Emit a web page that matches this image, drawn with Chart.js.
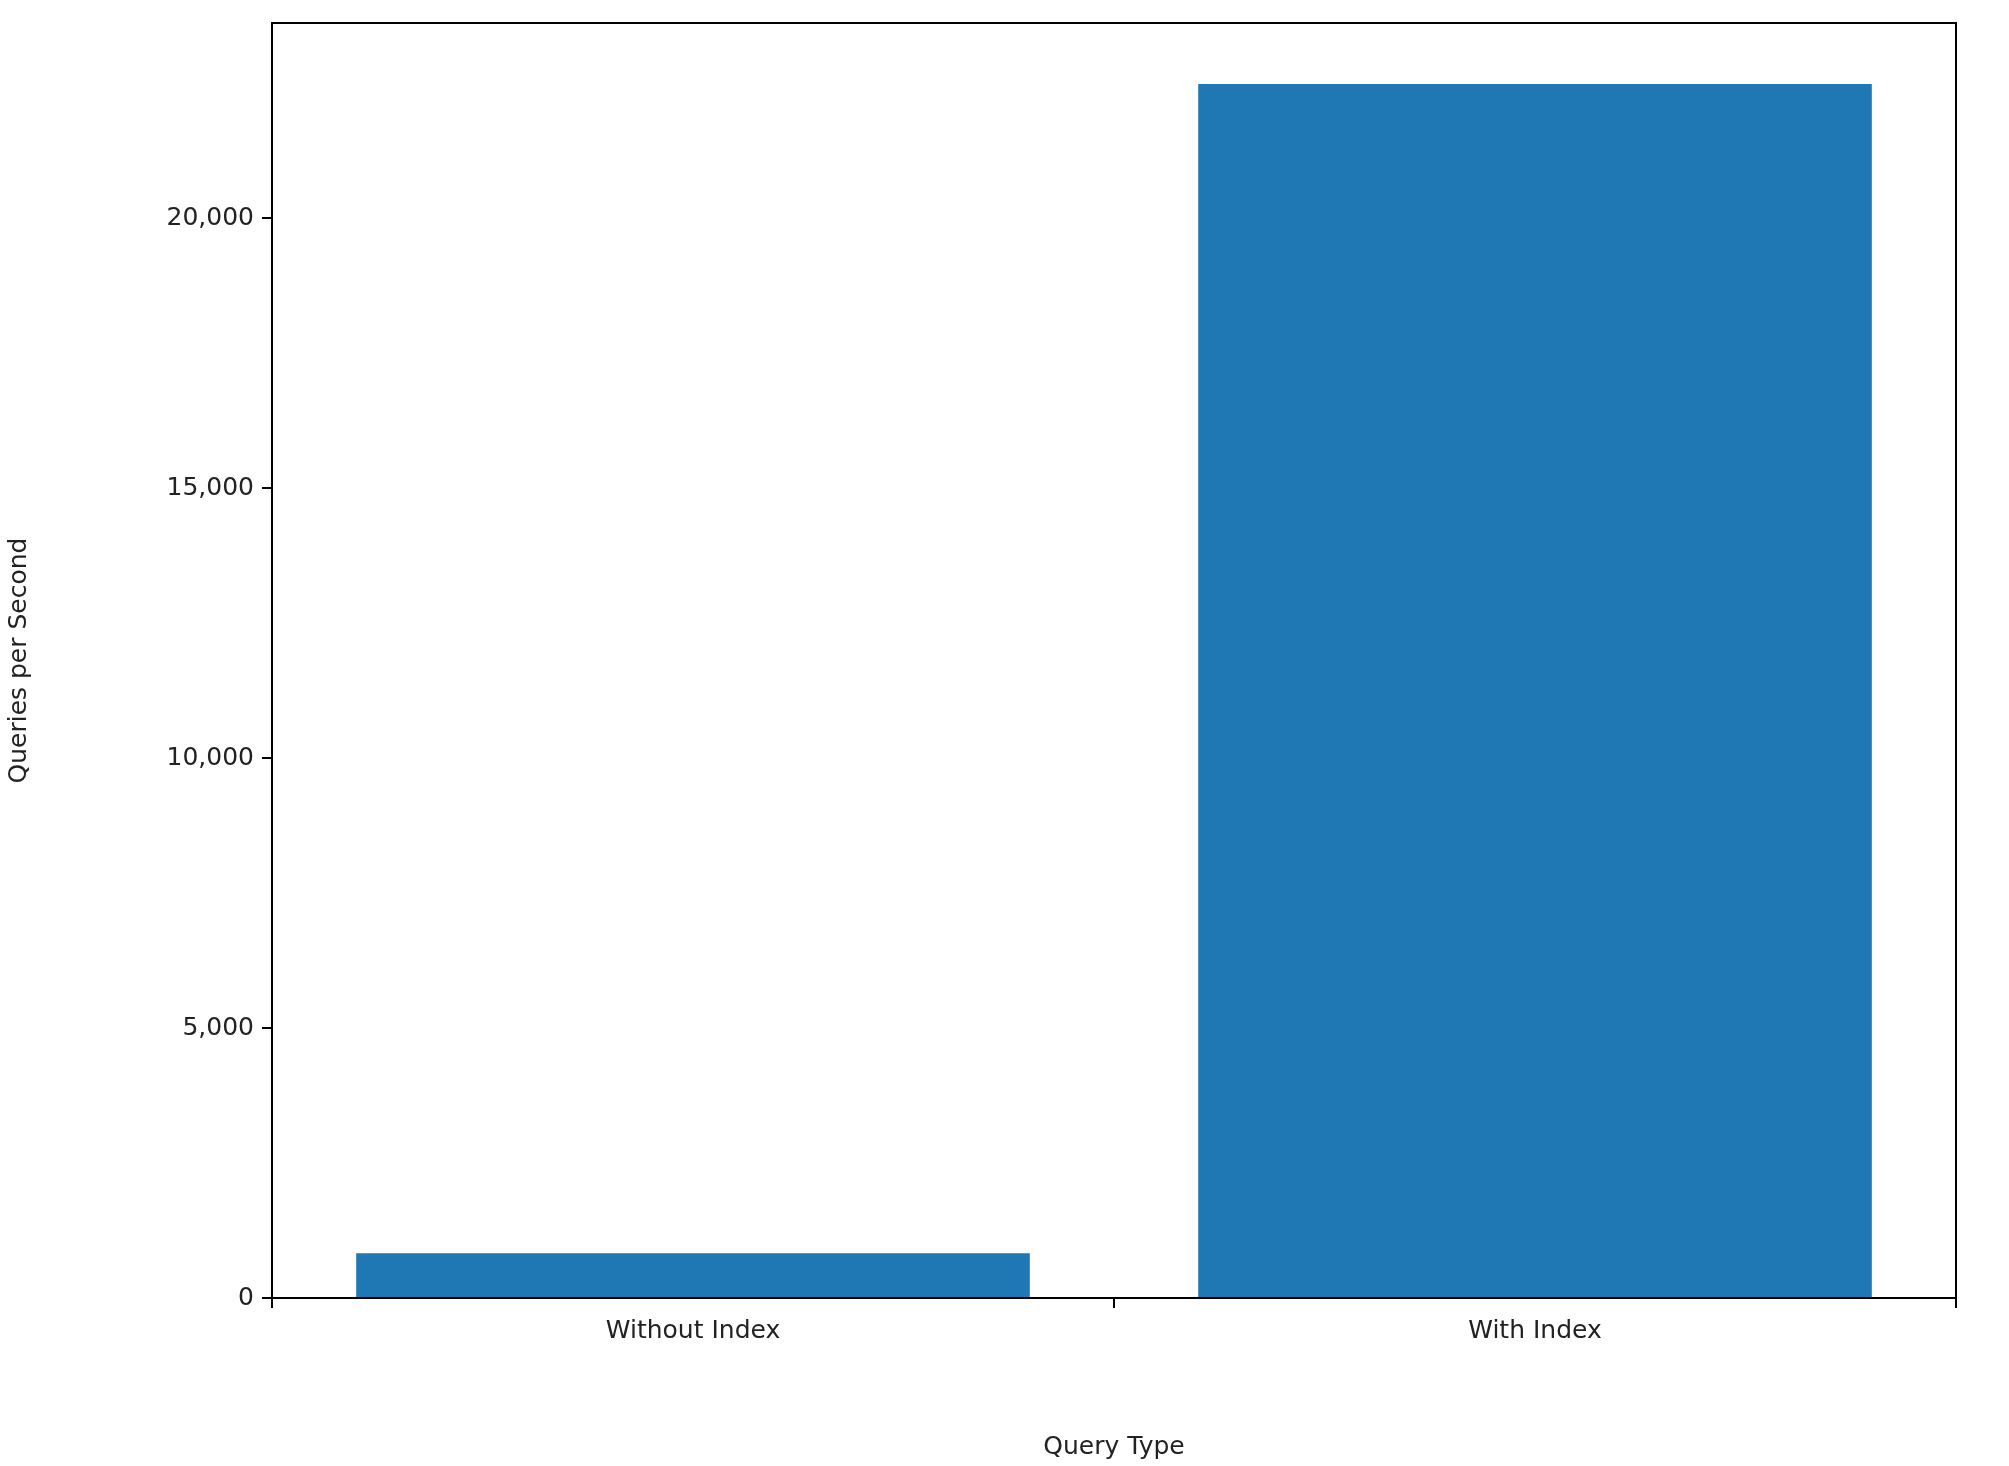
<!DOCTYPE html>
<html>
<head>
<meta charset="utf-8">
<script src="https://cdn.jsdelivr.net/npm/chart.js@4/dist/chart.umd.min.js"></script>
<style>
  html, body { margin: 0; padding: 0; background: #fff; }
  #wrap { width: 2009px; height: 1466px; }
</style>
</head>
<body>
<div id="wrap"><canvas id="c" width="2009" height="1466"></canvas></div>
<script>
// data
var categories = ['Without Index', 'With Index'];
var qps = [830, 22490];
var yTicks = [0, 5000, 10000, 15000, 20000];

var FONT = "'DejaVu Sans', sans-serif";

// matplotlib-style full frame around the plot area
var frame = {
  id: 'frame',
  afterDraw: function(chart) {
    var a = chart.chartArea, ctx = chart.ctx;
    ctx.save();
    ctx.strokeStyle = '#000';
    ctx.lineWidth = 2;
    ctx.strokeRect(a.left, a.top, a.right - a.left, a.bottom - a.top);
    ctx.restore();
  }
};

new Chart(document.getElementById('c'), {
  type: 'bar',
  data: {
    labels: categories,
    datasets: [{
      data: qps,
      backgroundColor: '#1f77b4',
      barPercentage: 0.8,
      categoryPercentage: 1.0
    }]
  },
  plugins: [frame],
  options: {
    responsive: false,
    animation: false,
    devicePixelRatio: 1,
    layout: { padding: { top: 15, right: 53, left: 0, bottom: 0 } },
    plugins: { legend: { display: false }, tooltip: { enabled: false } },
    scales: {
      x: {
        grid: { display: true, drawOnChartArea: false, color: '#000', tickLength: 10, lineWidth: 2 },
        border: { display: false },
        ticks: { color: '#222', font: { family: FONT, size: 25 }, padding: 8 },
        title: { display: true, text: 'Query Type', color: '#222', font: { family: FONT, size: 25 }, padding: { top: 10 } },
        afterFit: function(s) { s.height = 168; }
      },
      y: {
        min: 0,
        max: 23620,
        afterBuildTicks: function(s) { s.ticks = yTicks.map(function(v) { return { value: v }; }); },
        grid: { display: true, drawOnChartArea: false, color: '#000', tickLength: 10, lineWidth: 2 },
        border: { display: false },
        ticks: { color: '#222', font: { family: FONT, size: 25 }, padding: 8 },
        title: { display: true, text: 'Queries per Second', color: '#222', font: { family: FONT, size: 25 }, padding: { bottom: 6 } },
        afterFit: function(s) { s.width = 272; }
      }
    }
  }
});
</script>
</body>
</html>
